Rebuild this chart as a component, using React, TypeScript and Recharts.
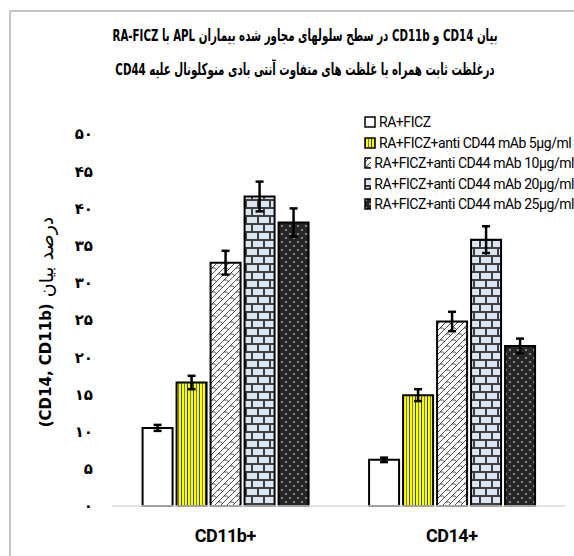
import React from 'react';
import { BarChart, Bar, XAxis, YAxis, ErrorBar, Legend, Label } from 'recharts';

const categories = ['CD11b+', 'CD14+'];
const seriesNames = [
  'RA+FICZ',
  'RA+FICZ+anti CD44 mAb 5µg/ml',
  'RA+FICZ+anti CD44 mAb 10µg/ml',
  'RA+FICZ+anti CD44 mAb 20µg/ml',
  'RA+FICZ+anti CD44 mAb 25µg/ml',
];
const raFicz = [10.5, 6.2];
const raFiczErr = [0.4, 0.3];
const mab5 = [16.6, 14.9];
const mab5Err = [0.9, 0.8];
const mab10 = [32.7, 24.8];
const mab10Err = [1.6, 1.3];
const mab20 = [41.6, 35.8];
const mab20Err = [2.0, 1.8];
const mab25 = [38.1, 21.5];
const mab25Err = [1.9, 1.0];
const yTicks = [0, 5, 10, 15, 20, 25, 30, 35, 40, 45, 50];
const titleLine1 = 'بیان CD14 و CD11b در سطح سلولهای مجاور شده بیماران APL با RA-FICZ';
const titleLine2 = 'درغلظت ثابت همراه با غلظت های متفاوت آنتی بادی منوکلونال علیه CD44';
const yLabelLatin = '(CD14, CD11b)';
const yLabelPersian = 'درصد بیان';

const values = [raFicz, mab5, mab10, mab20, mab25];
const errors = [raFiczErr, mab5Err, mab10Err, mab20Err, mab25Err];
const patternIds = ['pWhite', 'pYellow', 'pScale', 'pBrick', 'pDots'];

const data = categories.map((c, i) => {
  const row: any = { name: c };
  values.forEach((v, s) => {
    row['s' + s] = v[i];
    row['e' + s] = errors[s][i];
  });
  return row;
});

const persianDigits = '۰۱۲۳۴۵۶۷۸۹';
const toPersian = (n: number) => String(n).replace(/[0-9]/g, (d) => persianDigits[Number(d)]);

const Patterns = () => (
  <svg width={0} height={0} style={{ position: 'absolute' }}>
    <defs>
      <pattern id="pWhite" patternUnits="userSpaceOnUse" width={4} height={4}>
        <rect width={4} height={4} fill="#ffffff" />
      </pattern>
      <pattern id="pYellow" patternUnits="userSpaceOnUse" width={6} height={6}>
        <rect width={6} height={6} fill="#ffff00" />
        <line x1={1.5} y1={0} x2={1.5} y2={6} stroke="#2f4a78" strokeWidth={1} />
        <line x1={4.5} y1={0} x2={4.5} y2={6} stroke="#444" strokeWidth={0.7} />
      </pattern>
      <pattern id="pScale" patternUnits="userSpaceOnUse" width={12} height={12}>
        <rect width={12} height={12} fill="#ffffff" />
        <path d="M0 12 L12 0 M-6 12 L6 0 M6 12 L18 0 M2 10 Q5 9 7 12 M8 4 Q11 3 13 6 M-4 4 Q-1 3 1 6" stroke="#222" strokeWidth={0.8} fill="none" />
      </pattern>
      <pattern id="pBrick" patternUnits="userSpaceOnUse" width={12} height={16}>
        <rect width={12} height={16} fill="#3f3f3f" />
        <rect x={1} y={1} width={10} height={6} fill="#dbe5f1" />
        <rect x={-5} y={9} width={10} height={6} fill="#dbe5f1" />
        <rect x={7} y={9} width={10} height={6} fill="#dbe5f1" />
      </pattern>
      <pattern id="pDots" patternUnits="userSpaceOnUse" width={8} height={8}>
        <rect width={8} height={8} fill="#262626" />
        <circle cx={2} cy={2} r={0.8} fill="#ffffff" />
        <circle cx={6} cy={6} r={0.8} fill="#ffffff" />
      </pattern>
    </defs>
  </svg>
);

const LegendContent = () => (
  <div style={{ fontFamily: "'Roboto', sans-serif", fontSize: 14, letterSpacing: -0.45, color: '#000' }}>
    {seriesNames.map((n, i) => (
      <div key={n} style={{ display: 'flex', alignItems: 'center', height: 20.5, whiteSpace: 'nowrap' }}>
        <svg width={12} height={12} style={{ marginRight: 3 }}>
          <rect x={1} y={1} width={10} height={10} fill={`url(#${patternIds[i]})`} stroke="#000" strokeWidth={1.5} />
        </svg>
        <span>{n}</span>
      </div>
    ))}
  </div>
);

const YLabel = (props: any) => {
  const cx = 46;
  const cy = 322;
  return (
    <text x={cx} y={cy} transform={`rotate(-90 ${cx} ${cy})`} textAnchor="middle" dominantBaseline="central" fill="#000" fontFamily="'DejaVu Sans', sans-serif">
      <tspan fontWeight="bold" fontSize={15}>{yLabelLatin}</tspan>
      <tspan fontSize={19}> {yLabelPersian}</tspan>
    </text>
  );
};

export default function App() {
  return (
    <div style={{ position: 'absolute', left: 0, top: 0, width: 574, height: 556, background: '#fff', overflow: 'hidden' }}>
      <Patterns />
      <div style={{ position: 'absolute', left: 9, top: 10, width: 600, height: 600, borderLeft: '2px solid #c4c4c4', borderTop: '2px solid #c4c4c4' }} />
      <div dir="rtl" style={{ position: 'absolute', left: 5, width: 600, top: 19, textAlign: 'center', fontFamily: "'DejaVu Sans Condensed', 'DejaVu Sans', sans-serif", fontWeight: 700, fontSize: 16.5, lineHeight: '34px', color: '#000', transform: 'scaleX(0.69)', transformOrigin: '300px 0' }}>
        <div>{titleLine1}</div>
        <div>{titleLine2}</div>
      </div>
      <div style={{ position: 'absolute', left: 0, top: 0 }}>
        <BarChart width={574} height={556} data={data} margin={{ top: 134, right: 9, left: 62, bottom: 20 }} barGap={4} barCategoryGap="13.5%">
          <XAxis dataKey="name" axisLine={{ stroke: '#d9d9d9', strokeWidth: 1.5 }} tickLine={false} height={30} tickMargin={17}
            tick={{ fill: '#000', fontSize: 18, fontWeight: 700, fontFamily: "'Roboto', sans-serif", letterSpacing: -0.5 }} />
          <YAxis domain={[0, 50]} ticks={yTicks} width={50} axisLine={false} tickLine={false} tickMargin={13} interval={0}
            tickFormatter={toPersian}
            tick={{ fill: '#000', fontSize: 15, fontWeight: 700, fontFamily: "'DejaVu Sans', sans-serif" }}>
            <Label content={<YLabel />} />
          </YAxis>
          <Legend layout="vertical" align="center" verticalAlign="middle" content={<LegendContent />}
            wrapperStyle={{ position: 'absolute', top: 112, left: 364, width: 210 }} />
          {seriesNames.map((n, i) => (
            <Bar key={n} dataKey={'s' + i} name={n} fill={`url(#${patternIds[i]})`} stroke="#000" strokeWidth={2} isAnimationActive={false}>
              <ErrorBar dataKey={'e' + i} width={4} stroke="#000" strokeWidth={2.5} />
            </Bar>
          ))}
        </BarChart>
      </div>
    </div>
  );
}
